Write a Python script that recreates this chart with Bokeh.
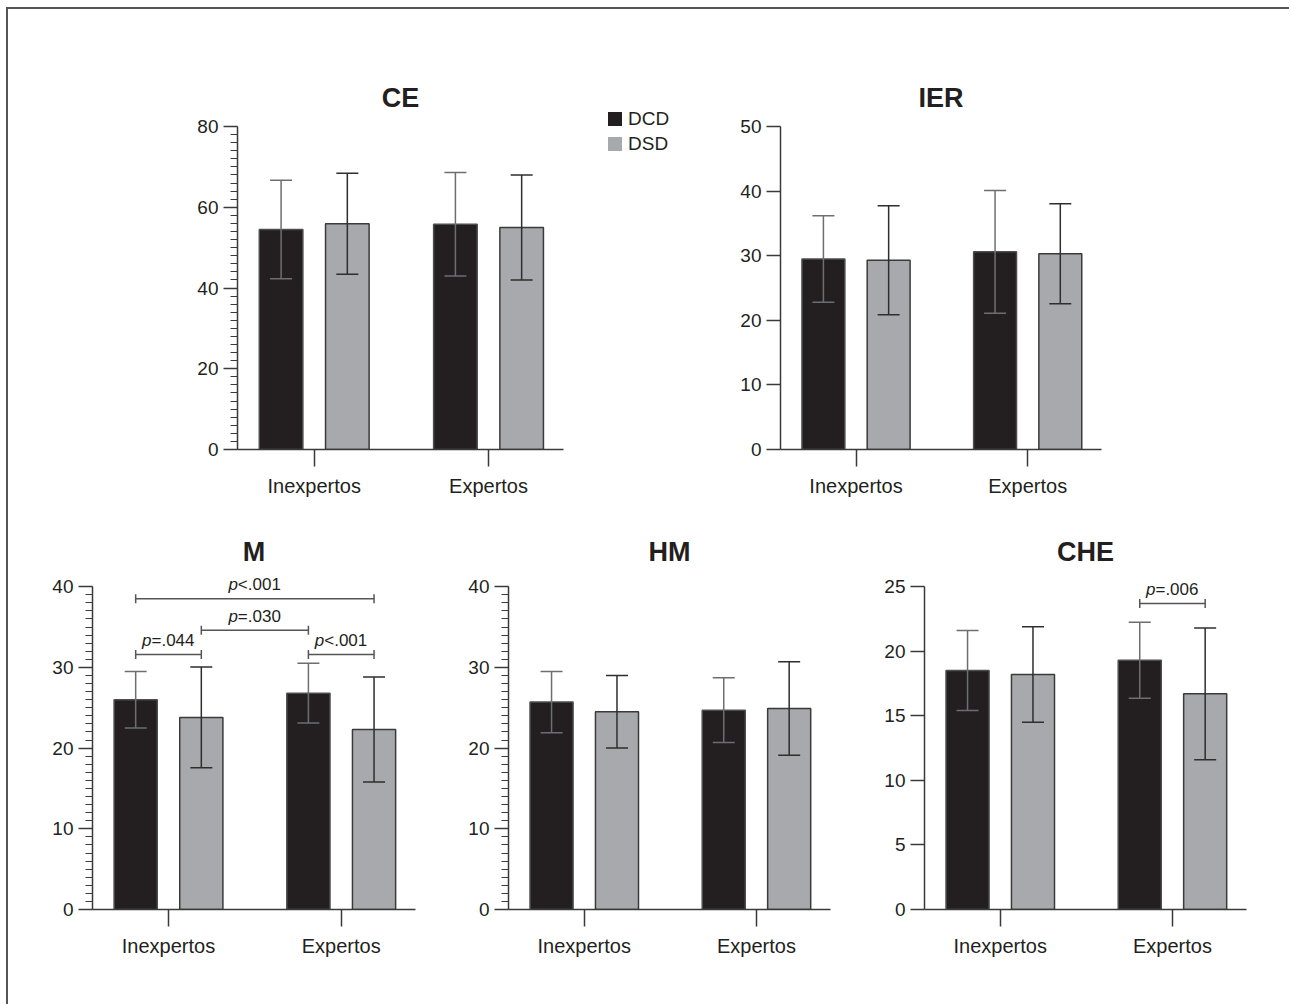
import numpy as np
from bokeh.plotting import figure
from bokeh.layouts import row, column
from bokeh.models import (ColumnDataSource, Whisker, TeeHead, FixedTicker, SingleIntervalTicker,
                          Range1d, Div)
from bokeh.core.properties import value
from bokeh.embed import file_html
from bokeh.resources import INLINE

# ---------------- data ----------------
groups = ["Inexpertos", "Expertos"]
series = ["DCD", "DSD"]

ce_dcd_mean = [54.5, 55.8]
ce_dcd_sd = [12.2, 12.8]
ce_dsd_mean = [55.9, 55.0]
ce_dsd_sd = [12.5, 13.0]

ier_dcd_mean = [29.5, 30.6]
ier_dcd_sd = [6.7, 9.5]
ier_dsd_mean = [29.3, 30.3]
ier_dsd_sd = [8.45, 7.75]

m_dcd_mean = [26.0, 26.8]
m_dcd_sd = [3.5, 3.7]
m_dsd_mean = [23.8, 22.3]
m_dsd_sd = [6.25, 6.5]

hm_dcd_mean = [25.7, 24.7]
hm_dcd_sd = [3.8, 4.0]
hm_dsd_mean = [24.5, 24.9]
hm_dsd_sd = [4.5, 5.8]

che_dcd_mean = [18.5, 19.3]
che_dcd_sd = [3.1, 2.95]
che_dsd_mean = [18.2, 16.7]
che_dsd_sd = [3.7, 5.1]

# significance brackets: (group, series) -> (group, series), level, label
m_br_from = [(0, "DCD"), (0, "DSD"), (0, "DCD"), (1, "DCD")]
m_br_to = [(1, "DSD"), (1, "DCD"), (0, "DSD"), (1, "DSD")]
m_br_y = [38.5, 34.6, 31.6, 31.6]
m_br_label = ["p<.001", "p=.030", "p=.044", "p<.001"]

che_br_from = [(1, "DCD")]
che_br_to = [(1, "DSD")]
che_br_y = [23.7]
che_br_label = ["p=.006"]

# ---------------- style ----------------
FONT = "Liberation Sans"
TXT = "#231f20"
AX = "#3a3a3a"
FILL = {"DCD": "#231f20", "DSD": "#a7a9ac"}
EDGE = {"DCD": "#4d4d4d", "DSD": "#3a3a3a"}
ERR = {"DCD": "#6d6e71", "DSD": "#2e2e2e"}
OFFS = {"DCD": -0.19, "DSD": 0.19}
BAR_W = 0.25
HEAD = 1.05  # head-room fraction above the last tick for the bottom row
XS = np.arange(1, len(groups) + 1, dtype=float)


def xpos(g, s):
    return XS[g] + OFFS[s]


def make_panel(title, ymax, step, minor, data, width, height, bl, br, bt, bb, standoff,
               brackets=None, head=1.0):
    p = figure(width=width, height=height, title=title,
               x_range=Range1d(0.56, 2.43), y_range=Range1d(0, ymax * head),
               output_backend="svg", toolbar_location=None,
               min_border_left=bl, min_border_right=br, min_border_top=bt, min_border_bottom=bb,
               outline_line_color=None, background_fill_color="white", border_fill_color="white")
    p.title.align = "center"
    p.title.text_font = FONT
    p.title.text_font_size = "27px"
    p.title.text_font_style = "bold"
    p.title.text_color = TXT
    p.title.standoff = standoff
    p.xgrid.visible = False
    p.ygrid.visible = False

    # x axis
    xa = p.xaxis[0]
    xa.ticker = FixedTicker(ticks=list(XS))
    xa.major_label_overrides = {int(x): g for x, g in zip(XS, groups)}
    xa.major_tick_out = 17
    xa.major_tick_in = 0
    xa.minor_tick_line_color = None
    xa.major_label_standoff = 8
    xa.axis_line_color = AX
    xa.axis_line_width = 1.5
    xa.major_tick_line_color = AX
    xa.major_tick_line_width = 1.5
    xa.major_label_text_font = FONT
    xa.major_label_text_font_size = "20px"
    xa.major_label_text_color = TXT

    # y axis
    ya = p.yaxis[0]
    ya.bounds = (0, ymax)
    ya.ticker = SingleIntervalTicker(interval=step, num_minor_ticks=minor if minor else 0)
    ya.major_tick_out = 14
    ya.major_tick_in = 0
    ya.minor_tick_out = 7
    ya.minor_tick_in = 0
    if not minor:
        ya.minor_tick_line_color = None
    else:
        ya.minor_tick_line_color = AX
        ya.minor_tick_line_width = 1.2
    ya.major_label_standoff = 5
    ya.axis_line_color = AX
    ya.axis_line_width = 1.5
    ya.major_tick_line_color = AX
    ya.major_tick_line_width = 1.5
    ya.major_label_text_font = FONT
    ya.major_label_text_font_size = "19px"
    ya.major_label_text_color = TXT

    for s in series:
        mean, sd = data[s]
        mean = np.array(mean, dtype=float)
        sd = np.array(sd, dtype=float)
        src = ColumnDataSource(dict(x=XS + OFFS[s], top=mean, upper=mean + sd, lower=mean - sd))
        p.vbar(x="x", top="top", bottom=0, width=BAR_W, source=src,
               fill_color=FILL[s], line_color=EDGE[s], line_width=1.5)
        w = Whisker(source=src, base="x", upper="upper", lower="lower", dimension="height",
                    line_color=ERR[s], line_width=1.5, level="annotation",
                    upper_head=TeeHead(size=22, line_color=ERR[s], line_width=1.5),
                    lower_head=TeeHead(size=22, line_color=ERR[s], line_width=1.5))
        p.add_layout(w)

    if brackets is not None:
        bfrom, bto, by, blab = brackets
        x0 = np.array([xpos(g, s) for g, s in bfrom])
        x1 = np.array([xpos(g, s) for g, s in bto])
        y = np.array(by, dtype=float)
        p.segment(x0=x0, y0=y, x1=x1, y1=y, line_color="#555555", line_width=1.5)
        p.scatter(x=np.concatenate([x0, x1]), y=np.concatenate([y, y]), marker="dash",
                  angle=np.pi / 2, size=9, line_color="#555555", line_width=1.5)
        mid = (x0 + x1) / 2
        p.text(x=mid, y=y, text=[t[0] for t in blab], text_font=value(FONT),
               text_font_style="italic", text_font_size="17px", text_color=TXT,
               text_align="right", text_baseline="alphabetic", x_offset=-17, y_offset=-14)
        p.text(x=mid, y=y, text=[t[1:] for t in blab], text_font=value(FONT),
               text_font_size="17px", text_color=TXT,
               text_align="left", text_baseline="alphabetic", x_offset=-17, y_offset=-14)
    return p


ce = make_panel("CE", 80, 20, 10, {"DCD": (ce_dcd_mean, ce_dcd_sd), "DSD": (ce_dsd_mean, ce_dsd_sd)},
                572, 511, 229, 17, 117, 71, 28)
ier = make_panel("IER", 50, 10, 0, {"DCD": (ier_dcd_mean, ier_dcd_sd), "DSD": (ier_dsd_mean, ier_dsd_sd)},
                 589, 511, 80, 188, 117, 71, 27)
m = make_panel("M", 40, 10, 10, {"DCD": (m_dcd_mean, m_dcd_sd), "DSD": (m_dsd_mean, m_dsd_sd)},
               432, 484, 84, 25, 50, 95, 7,
               brackets=(m_br_from, m_br_to, m_br_y, m_br_label), head=HEAD)
hm = make_panel("HM", 40, 10, 10, {"DCD": (hm_dcd_mean, hm_dcd_sd), "DSD": (hm_dsd_mean, hm_dsd_sd)},
                415, 484, 68, 25, 50, 95, 7, head=HEAD)
che = make_panel("CHE", 25, 5, 0, {"DCD": (che_dcd_mean, che_dcd_sd), "DSD": (che_dsd_mean, che_dsd_sd)},
                 434, 484, 69, 43, 50, 95, 7,
                 brackets=(che_br_from, che_br_to, che_br_y, che_br_label), head=HEAD)

# legend (HTML) between CE and IER
items_html = ""
for i, s in enumerate(series):
    top = 103 + 25 * i
    items_html += (f'<div style="position:absolute;left:28px;top:{top}px;width:14px;height:14px;'
                   f'background:{FILL[s]}"></div>'
                   f'<div style="position:absolute;left:48px;top:{top - 3}px;white-space:nowrap">{s}</div>')
legend_div = Div(text=(f'<div style="position:relative;width:120px;height:511px;'
                       f"font-family:'{FONT}';font-size:19px;line-height:19px;color:{TXT}\">"
                       f'{items_html}</div>'),
                 width=120, height=511, styles={"margin": "0", "padding": "0"})

layout = column(row(ce, legend_div, ier), row(m, hm, che),
                styles={"border-top": "2px solid #555555", "border-left": "2px solid #555555",
                        "margin-left": "6px", "margin-top": "7px"})

open("out.html", "w").write(file_html(layout, INLINE))
